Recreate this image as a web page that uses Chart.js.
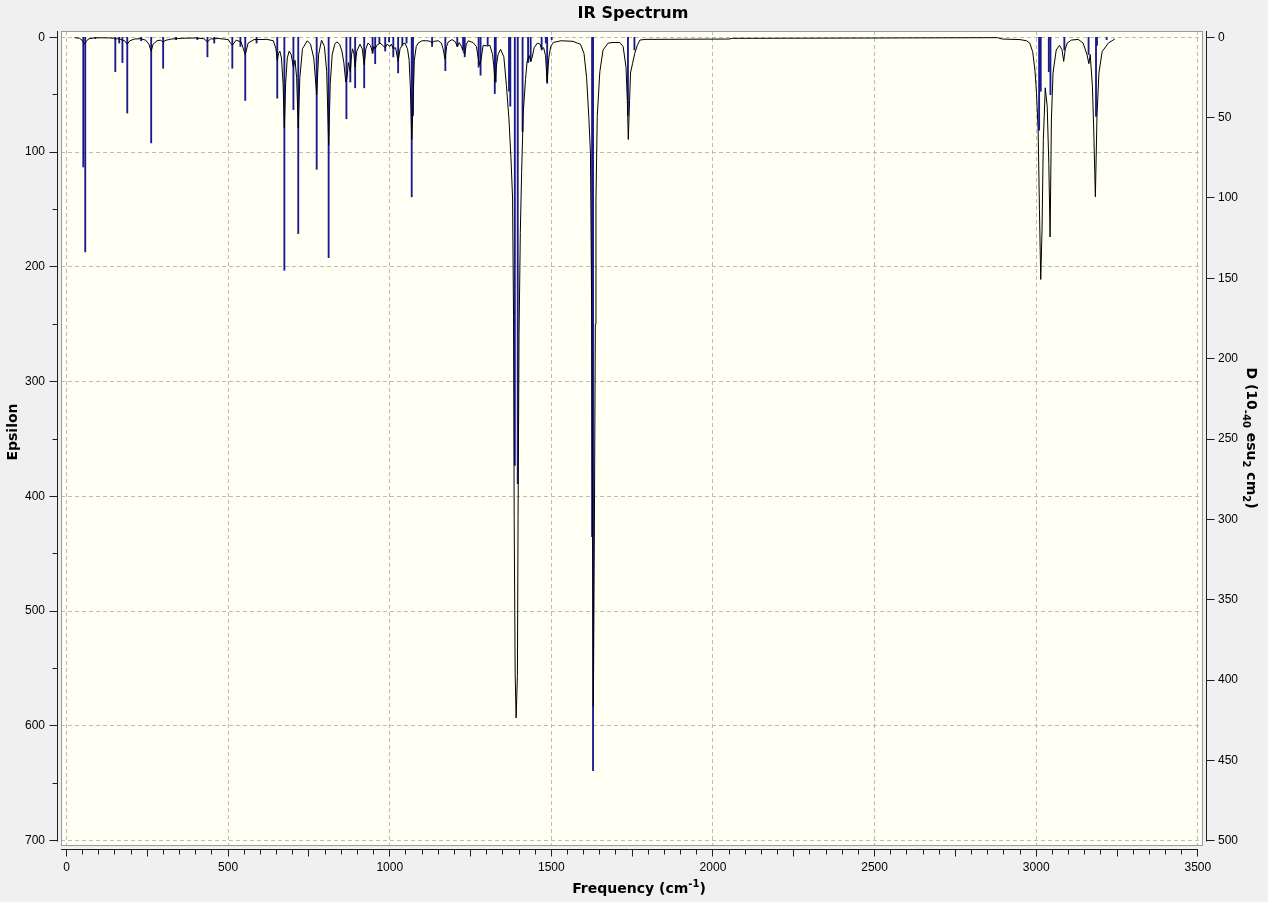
<!DOCTYPE html>
<html>
<head>
<meta charset="utf-8">
<title>IR Spectrum</title>
<script src="https://cdn.jsdelivr.net/npm/chart.js@4.4.1/dist/chart.umd.min.js"></script>
<style>
  html, body { margin: 0; padding: 0; background: #f0f0f0; }
  canvas { display: block; }
</style>
</head>
<body>
<canvas id="ir-chart" width="1268" height="902"></canvas>
<script>
// stick spectrum (frequency cm-1, epsilon)
const stickFreq = [52, 58, 89, 151, 163, 173, 188, 231, 262, 299,
    339, 405, 436, 457, 513, 538, 553, 588, 652, 674,
    702, 717, 774, 811, 866, 878, 893, 921, 947, 955,
    968, 986, 998, 1011, 1026, 1039, 1052, 1068, 1072, 1131,
    1172, 1209, 1227, 1232, 1275, 1281, 1303, 1325, 1328, 1369,
    1373, 1387, 1396, 1411, 1428, 1436, 1470, 1483, 1487, 1501,
    1626, 1629, 1737, 1757, 3009, 3014, 3039, 3044, 3087, 3162,
    3185, 3188, 3218];
const stickEps = [113, 187, 1, 30, 5, 22, 66, 3, 92, 27,
    2, 2, 17, 5, 27, 8, 55, 5, 53, 203,
    63, 171, 115, 192, 71, 39, 44, 44, 14, 23,
    5, 12, 4, 17, 31, 7, 5, 139, 68, 8,
    29, 8, 11, 17, 26, 33, 7, 49, 39, 47,
    60, 373, 389, 82, 22, 21, 11, 5, 40, 2,
    435, 639, 68, 11, 81, 47, 30, 50, 11, 15,
    69, 7, 2];

// broadened spectrum
const curveFreq = [25, 40, 48, 52, 55, 58, 62, 70, 84, 100,
    130, 145, 151, 158, 165, 173, 180, 188, 196, 210,
    230, 245, 255, 262, 268, 280, 290, 299, 308, 325,
    360, 400, 425, 436, 445, 470, 500, 513, 525, 540,
    553, 562, 580, 620, 640, 648, 652, 656, 660, 665,
    670, 674, 678, 683, 689, 695, 702, 707, 712, 717,
    722, 730, 745, 755, 765, 774, 780, 789, 798, 805,
    811, 816, 822, 830, 836, 845, 852, 858, 864, 868,
    872, 878, 882, 885, 889, 893, 898, 908, 915, 921,
    926, 933, 940, 947, 951, 955, 960, 970, 978, 986,
    992, 1000, 1005, 1011, 1018, 1026, 1032, 1040, 1047, 1055,
    1060, 1064, 1068, 1072, 1076, 1082, 1088, 1100, 1115, 1125,
    1131, 1137, 1150, 1160, 1165, 1171, 1176, 1181, 1193, 1203,
    1209, 1215, 1222, 1227, 1232, 1237, 1243, 1258, 1268, 1275,
    1278, 1282, 1289, 1303, 1310, 1318, 1322, 1326, 1330, 1335,
    1343, 1353, 1361, 1369, 1375, 1380, 1383, 1385, 1388, 1391,
    1395, 1397, 1400, 1404, 1408, 1413, 1420, 1425, 1432, 1436,
    1440, 1447, 1457, 1465, 1470, 1476, 1482, 1487, 1492, 1498,
    1506, 1530, 1567, 1580, 1590, 1601, 1609, 1616, 1621, 1625,
    1628, 1630, 1633, 1636, 1638, 1642, 1650, 1660, 1676, 1691,
    1712, 1722, 1731, 1735, 1738, 1742, 1745, 1751, 1758, 1766,
    1774, 1790, 2050, 2060, 2500, 2880, 2895, 2950, 2970, 2980,
    2989, 2996, 3001, 3006, 3010, 3014, 3018, 3022, 3028, 3034,
    3039, 3043, 3047, 3052, 3062, 3072, 3080, 3085, 3090, 3096,
    3109, 3130, 3145, 3157, 3163, 3167, 3174, 3178, 3183, 3188,
    3194, 3204, 3223, 3243];
const curveEps = [0.3, 0.8, 2.5, 4.5, 6, 5, 3, 1.2, 0.6, 0.4,
    0.5, 0.8, 1.5, 1.2, 1.5, 2.5, 3, 6, 3, 1.5,
    1.2, 2.5, 6, 12, 6, 3, 2.5, 4, 2.5, 1.5,
    0.8, 0.6, 1.2, 4, 1.5, 1, 2, 7, 2.5, 4,
    15, 5, 2, 1.8, 3, 10, 20, 14, 12, 18,
    40, 79, 40, 18, 12, 15, 26, 20, 35, 79,
    35, 10, 3, 6, 18, 50, 15, 2.5, 8, 30,
    94, 40, 15, 6, 4, 6, 12, 22, 39, 35,
    22, 30, 15, 10, 14, 26, 12, 6, 10, 24,
    10, 5, 7, 13, 8, 10, 7, 5, 7, 9,
    6, 8, 6, 10, 9, 21, 10, 6, 5, 10,
    20, 45, 89, 60, 20, 8, 5, 3, 3, 3.5,
    5, 3.5, 3, 5, 10, 19, 8, 4, 2, 4,
    8, 4.6, 8, 12, 15, 6, 3, 4.6, 8, 20,
    24, 20, 7, 7.6, 7, 15, 25, 39, 25, 15,
    10.5, 17, 42, 72, 105, 140, 243, 418, 554, 593,
    556, 420, 260, 170, 118, 66, 37, 21, 16, 21,
    18, 9, 5, 6, 10, 9, 16, 39, 18, 8,
    4.5, 3, 3.5, 5, 6, 14, 35, 70, 101, 250,
    450, 583, 437, 250, 142, 69, 30, 11, 5, 4.5,
    4.6, 8, 26, 55, 89, 55, 31, 23, 14, 7,
    2.4, 1.8, 1.5, 0.9, 0.6, 0.3, 1.5, 2, 3, 5,
    12.5, 28.5, 49, 81, 150, 211, 168, 90, 44, 60,
    110, 174, 72, 31, 11, 7, 11, 21, 10, 5,
    2.4, 1.8, 5, 15, 23, 15, 43, 81, 139, 69,
    31, 12.5, 5, 1.5];

// axis ranges and tick steps
const xRange = [-17, 3516];
const epsRange = [-5.5, 704.6];
const epsPerD = 1.4;          // right axis: D = epsilon / 1.4
const xLabelStep = 500, xMinorStep = 50, xMidStep = 250;
const epsTickStep = 100, epsMinorStep = 50;
const dTickStep = 50;

const FONT = '"Liberation Sans", Arial, sans-serif';
const TITLE_FONT = '"DejaVu Sans", Verdana, sans-serif';
Chart.defaults.font.family = FONT;
Chart.defaults.font.size = 12;
Chart.defaults.color = '#000';

// draws a title with superscripts, centred on (cx, cy)
function drawRich(ctx, parts, cx, cy, angle, supShift) {
    const big = 'bold 14px ' + TITLE_FONT, small = 'bold 10px ' + TITLE_FONT;
    ctx.save();
    ctx.translate(cx, cy);
    ctx.rotate(angle);
    let widths = [], total = 0;
    parts.forEach(function (p) {
        ctx.font = p.sup ? small : big;
        let w = ctx.measureText(p.text).width;
        widths.push(w);
        total += w;
    });
    let x = -total / 2;
    ctx.fillStyle = '#000';
    ctx.textAlign = 'left';
    ctx.textBaseline = 'alphabetic';
    parts.forEach(function (p, i) {
        ctx.font = p.sup ? small : big;
        ctx.fillText(p.text, x, 5 + (p.sup ? supShift : 0));
        x += widths[i];
    });
    ctx.restore();
}

function line(ctx, x1, y1, x2, y2) {
    ctx.beginPath();
    ctx.moveTo(x1, y1);
    ctx.lineTo(x2, y2);
    ctx.stroke();
}

const framePlugin = {
    id: 'irFrame',
    beforeDraw(chart) {
        const ctx = chart.ctx, a = chart.chartArea;
        ctx.save();
        ctx.fillStyle = '#f0f0f0';
        ctx.fillRect(0, 0, chart.width, chart.height);
        ctx.fillStyle = '#fffff4';
        ctx.fillRect(a.left, a.top, a.right - a.left, a.bottom - a.top);
        ctx.restore();
    },
    beforeDatasetsDraw(chart) {
        // dashed grid at the labelled ticks only
        const ctx = chart.ctx, a = chart.chartArea;
        const sx = chart.scales.x, sy = chart.scales.y;
        ctx.save();
        ctx.strokeStyle = '#bcbcbc';
        ctx.lineWidth = 1;
        ctx.setLineDash([4, 3]);
        sx.ticks.forEach(function (t) {
            if (t.value % xLabelStep !== 0) return;
            let px = Math.floor(sx.getPixelForValue(t.value)) + 0.5;
            line(ctx, px, a.top, px, a.bottom);
        });
        sy.ticks.forEach(function (t) {
            let py = Math.floor(sy.getPixelForValue(t.value)) + 0.5;
            line(ctx, a.left, py, a.right, py);
        });
        ctx.restore();
    },
    afterDraw(chart) {
        const ctx = chart.ctx, a = chart.chartArea;
        const sx = chart.scales.x, sy = chart.scales.y, sd = chart.scales.y2;
        ctx.save();

        // plot frame
        ctx.strokeStyle = '#9a9a9a';
        ctx.lineWidth = 1;
        ctx.strokeRect(a.left + 0.5, a.top + 0.5, a.right - a.left - 1, a.bottom - a.top - 1);

        ctx.strokeStyle = '#1e1e1e';
        // bottom axis, detached a little from the frame
        let ax = a.bottom + 3.5;
        let xEnd = Math.floor(sx.getPixelForValue(3500)) + 0.5;
        line(ctx, a.left, ax, xEnd + 0.5, ax);
        sx.ticks.forEach(function (t) {
            let px = Math.floor(sx.getPixelForValue(t.value)) + 0.5;
            line(ctx, px, ax, px, ax + (t.value % xMidStep === 0 ? 7 : 5));
        });

        // left axis (epsilon)
        let lx = a.left - 3.5;
        let yEnd = Math.floor(sy.getPixelForValue(700)) + 0.5;
        line(ctx, lx, a.top, lx, yEnd + 1);
        for (let v = 0; v <= 700; v += epsMinorStep) {
            let py = Math.floor(sy.getPixelForValue(v)) + 0.5;
            line(ctx, lx - (v % epsTickStep === 0 ? 8 : 5), py, lx, py);
        }

        // right axis (D)
        let rx = a.right + 3.5;
        line(ctx, rx, a.top, rx, yEnd + 1);
        sd.ticks.forEach(function (t) {
            let py = Math.floor(sd.getPixelForValue(t.value)) + 0.5;
            line(ctx, rx, py, rx + 8, py);
        });
        ctx.restore();

        // titles
        ctx.save();
        ctx.font = 'bold 16px ' + TITLE_FONT;
        ctx.fillStyle = '#000';
        ctx.textAlign = 'center';
        ctx.textBaseline = 'middle';
        ctx.fillText('IR Spectrum', 633, 14);
        ctx.restore();

        drawRich(ctx, [{text: 'Frequency (cm'}, {text: '-1', sup: true}, {text: ')'}],
            639, 888, 0, -6);
        drawRich(ctx, [{text: 'Epsilon'}], 12, 432, -Math.PI / 2, 0);
        // on the right title the small figures sit on the baseline side, as in the picture
        drawRich(ctx, [{text: 'D (10'}, {text: '-40', sup: true}, {text: ' esu'},
            {text: '2', sup: true}, {text: ' cm'}, {text: '2', sup: true}, {text: ')'}],
            1252, 438, Math.PI / 2, 4);
    }
};

const plainLabel = function (v) { return String(v); };
const xLabel = function (v) { return v % xLabelStep === 0 ? String(v) : ''; };

new Chart(document.getElementById('ir-chart'), {
    type: 'line',
    data: {
        datasets: [{
            type: 'line',
            label: 'spectrum',
            data: curveFreq.map(function (f, i) { return {x: f, y: curveEps[i]}; }),
            borderColor: '#000000',
            borderWidth: 1,
            pointRadius: 0,
            tension: 0,
            fill: false,
            order: 1,
            yAxisID: 'y'
        }, {
            type: 'bar',
            label: 'sticks',
            data: stickFreq.map(function (f, i) { return {x: f, y: stickEps[i]}; }),
            backgroundColor: '#1a1a8e',
            barThickness: 1.2,
            order: 2,
            yAxisID: 'y'
        }]
    },
    options: {
        responsive: false,
        devicePixelRatio: 1,
        animation: false,
        events: [],
        layout: { padding: { top: 31, left: 0, right: 0, bottom: 0 } },
        plugins: {
            legend: { display: false },
            tooltip: { enabled: false },
            title: { display: false }
        },
        scales: {
            x: {
                type: 'linear',
                position: 'bottom',
                min: xRange[0],
                max: xRange[1],
                offset: false,
                grid: { display: false, drawTicks: false },
                border: { display: false },
                // step of 50 drives the minor marks, only every 500 gets a label
                ticks: { stepSize: xMinorStep, includeBounds: false, autoSkip: false,
                    maxRotation: 0, padding: 14, callback: xLabel },
                afterFit: function (s) { s.height = 56; }
            },
            y: {
                type: 'linear',
                position: 'left',
                reverse: true,
                min: epsRange[0],
                max: epsRange[1],
                grid: { display: false, drawTicks: false },
                border: { display: false },
                ticks: { stepSize: epsTickStep, includeBounds: false, padding: 16, callback: plainLabel },
                afterFit: function (s) { s.width = 61; }
            },
            y2: {
                type: 'linear',
                position: 'right',
                reverse: true,
                min: epsRange[0] / epsPerD,
                max: epsRange[1] / epsPerD,
                grid: { display: false, drawTicks: false },
                border: { display: false },
                ticks: { stepSize: dTickStep, includeBounds: false, padding: 15, callback: plainLabel },
                afterFit: function (s) { s.width = 65; }
            }
        }
    },
    plugins: [framePlugin]
});
</script>
</body>
</html>
